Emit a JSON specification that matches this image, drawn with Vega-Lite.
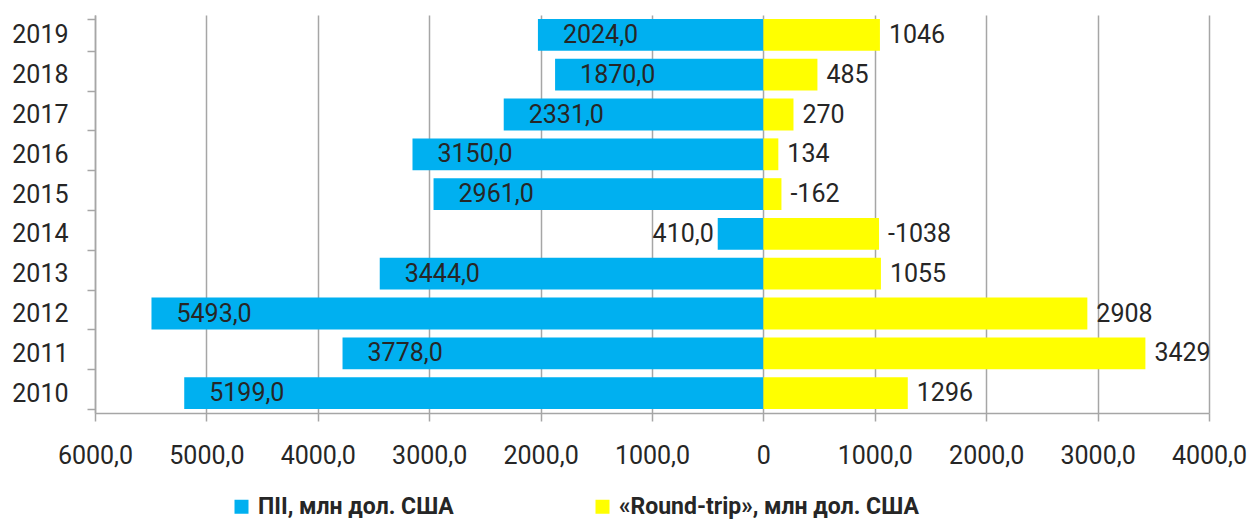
{
  "$schema": "https://vega.github.io/schema/vega-lite/v6.json",
  "width": 1114,
  "height": 398,
  "autosize": {"type": "none"},
  "padding": {"left": 95, "top": 15, "right": 44, "bottom": 109},
  "background": "white",
  "config": {"view": {"stroke": null}, "font": "Roboto"},
  "data": {
    "values": [
      {"year": "2019", "series": "ПІІ, млн дол. США", "value": -2024, "label": "2024,0"},
      {"year": "2018", "series": "ПІІ, млн дол. США", "value": -1870, "label": "1870,0"},
      {"year": "2017", "series": "ПІІ, млн дол. США", "value": -2331, "label": "2331,0"},
      {"year": "2016", "series": "ПІІ, млн дол. США", "value": -3150, "label": "3150,0"},
      {"year": "2015", "series": "ПІІ, млн дол. США", "value": -2961, "label": "2961,0"},
      {"year": "2014", "series": "ПІІ, млн дол. США", "value": -410, "label": "410,0"},
      {"year": "2013", "series": "ПІІ, млн дол. США", "value": -3444, "label": "3444,0"},
      {"year": "2012", "series": "ПІІ, млн дол. США", "value": -5493, "label": "5493,0"},
      {"year": "2011", "series": "ПІІ, млн дол. США", "value": -3778, "label": "3778,0"},
      {"year": "2010", "series": "ПІІ, млн дол. США", "value": -5199, "label": "5199,0"},
      {"year": "2019", "series": "«Round-trip», млн дол. США", "value": 1046, "label": "1046"},
      {"year": "2018", "series": "«Round-trip», млн дол. США", "value": 485, "label": "485"},
      {"year": "2017", "series": "«Round-trip», млн дол. США", "value": 270, "label": "270"},
      {"year": "2016", "series": "«Round-trip», млн дол. США", "value": 134, "label": "134"},
      {"year": "2015", "series": "«Round-trip», млн дол. США", "value": 162, "label": "-162"},
      {"year": "2014", "series": "«Round-trip», млн дол. США", "value": 1038, "label": "-1038"},
      {"year": "2013", "series": "«Round-trip», млн дол. США", "value": 1055, "label": "1055"},
      {"year": "2012", "series": "«Round-trip», млн дол. США", "value": 2908, "label": "2908"},
      {"year": "2011", "series": "«Round-trip», млн дол. США", "value": 3429, "label": "3429"},
      {"year": "2010", "series": "«Round-trip», млн дол. США", "value": 1296, "label": "1296"}
    ]
  },
  "encoding": {
    "y": {
      "field": "year",
      "type": "ordinal",
      "sort": "descending",
      "scale": {"paddingInner": 0.2, "paddingOuter": 0.1},
      "axis": {
        "title": null,
        "grid": false,
        "ticks": true,
        "tickBand": "extent",
        "tickSize": 8,
        "tickColor": "#a6a6a6",
        "tickWidth": 1.5,
        "domainColor": "#a6a6a6",
        "domainWidth": 1.5,
        "labelFontSize": 25,
        "labelColor": "#262626",
        "labelPadding": 19
      }
    }
  },
  "layer": [
    {
      "mark": {"type": "bar"},
      "encoding": {
        "x": {
          "field": "value",
          "type": "quantitative",
          "stack": null,
          "scale": {"domain": [-6000, 4000], "nice": false},
          "axis": {
            "title": null,
            "values": [-6000, -5000, -4000, -3000, -2000, -1000, 0, 1000, 2000, 3000, 4000],
            "labelExpr": "datum.value == 0 ? '0' : replace(format(abs(datum.value), '.1f'), '.', ',')",
            "grid": true,
            "gridColor": "#a6a6a6",
            "gridWidth": 1.5,
            "domainColor": "#a6a6a6",
            "domainWidth": 1.5,
            "tickColor": "#a6a6a6",
            "tickWidth": 1.5,
            "tickSize": 8,
            "labelFontSize": 25,
            "labelColor": "#262626",
            "labelPadding": 22,
            "labelFlush": false
          }
        },
        "color": {
          "field": "series",
          "type": "nominal",
          "scale": {
            "domain": ["ПІІ, млн дол. США", "«Round-trip», млн дол. США"],
            "range": ["#00b0f0", "#ffff00"]
          },
          "legend": {
            "title": null,
            "orient": "none",
            "direction": "horizontal",
            "legendX": 135,
            "legendY": 480,
            "symbolType": "square",
            "symbolSize": 196,
            "symbolOpacity": 1,
            "symbolStrokeWidth": 0,
            "labelFontSize": 23,
            "labelFontWeight": "bold",
            "labelColor": "#262626",
            "labelOffset": 5,
            "labelLimit": 400,
            "columnPadding": 137
          }
        }
      }
    },
    {
      "transform": [{"filter": "datum.value <= -1000"}],
      "mark": {"type": "text", "align": "left", "dx": 25, "fontSize": 25, "color": "#262626"},
      "encoding": {
        "x": {"field": "value", "type": "quantitative"},
        "text": {"field": "label"}
      }
    },
    {
      "transform": [{"filter": "datum.value < 0 && datum.value > -1000"}],
      "mark": {"type": "text", "align": "right", "dx": -4, "fontSize": 25, "color": "#262626"},
      "encoding": {
        "x": {"field": "value", "type": "quantitative"},
        "text": {"field": "label"}
      }
    },
    {
      "transform": [{"filter": "datum.value > 0"}],
      "mark": {"type": "text", "align": "left", "dx": 9, "fontSize": 25, "color": "#262626"},
      "encoding": {
        "x": {"field": "value", "type": "quantitative"},
        "text": {"field": "label"}
      }
    }
  ]
}
